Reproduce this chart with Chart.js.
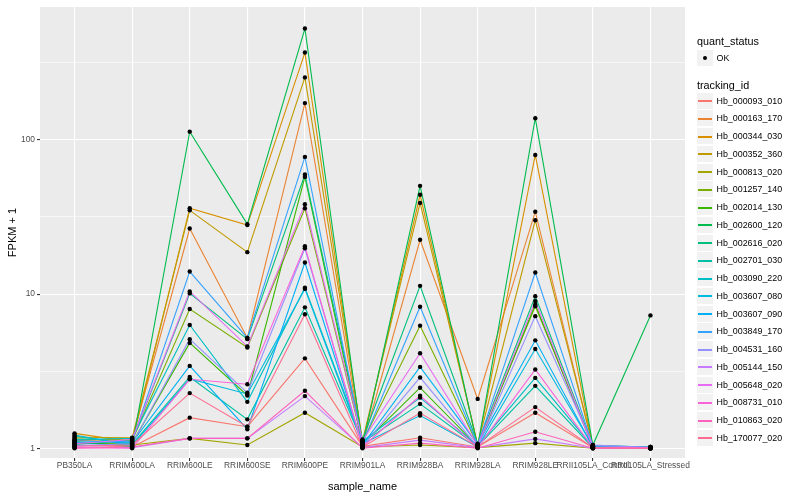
<!DOCTYPE html>
<html><head><meta charset="utf-8">
<script src="https://cdn.jsdelivr.net/npm/chart.js@4/dist/chart.umd.min.js"></script>
<style>
body{margin:0;background:#fff;font-family:"Liberation Sans",Arial,sans-serif;}
#wrap{position:relative;width:800px;height:500px;overflow:hidden;}
#c{position:absolute;left:0;top:0;}
.t{position:absolute;font-size:10.8px;line-height:12px;color:#000;white-space:nowrap;}
.k{position:absolute;width:16px;height:16px;background:#F2F2F2;}
.lab{position:absolute;font-size:8.9px;line-height:10px;color:#000;white-space:nowrap;}
.ln{position:absolute;height:1.6px;}
.dot{position:absolute;width:4px;height:4px;border-radius:2px;background:#000;}
</style></head>
<body>
<div id="wrap"><canvas id="c" width="800" height="500"></canvas><div id="legend"></div></div>
<script>
// ---- data ----
const categories = ["PB350LA","RRIM600LA","RRIM600LE","RRIM600SE","RRIM600PE","RRIM901LA","RRIM928BA","RRIM928LA","RRIM928LE","RRII105LA_Control","RRII105LA_Stressed"];
const seriesNames = ["Hb_000093_010","Hb_000163_170","Hb_000344_030","Hb_000352_360","Hb_000813_020","Hb_001257_140","Hb_002014_130","Hb_002600_120","Hb_002616_020","Hb_002701_030","Hb_003090_220","Hb_003607_080","Hb_003607_090","Hb_003849_170","Hb_004531_160","Hb_005144_150","Hb_005648_020","Hb_008731_010","Hb_010863_020","Hb_170077_020"];
const hb000093_010 = [1.05,1.02,1.58,1.38,3.83,1.03,1.17,1.02,1.70,1.01,1.00];
const hb000163_170 = [1.12,1.15,26.6,5.19,173,1.05,22.5,2.09,34.2,1.03,1.01];
const hb000344_030 = [1.25,1.10,36.0,28.0,368,1.08,44.0,1.04,79.8,1.02,1.02];
const hb000352_360 = [1.18,1.17,34.9,18.7,254,1.12,39.0,1.06,30.1,1.04,1.01];
const hb000813_020 = [1.10,1.05,1.16,1.05,1.70,1.02,1.05,1.01,1.08,1.00,1.00];
const hb001257_140 = [1.15,1.12,8.0,4.50,36.0,1.10,6.24,1.05,8.34,1.03,1.02];
const hb002014_130 = [1.08,1.08,4.82,2.20,57.5,1.06,2.47,1.03,8.55,1.02,1.01];
const hb002600_120 = [1.10,1.03,113,28.4,527,1.04,50.3,1.02,138,1.05,7.27];
const hb002616_020 = [1.06,1.13,10.1,5.10,59.6,1.14,11.3,1.07,9.68,1.04,1.02];
const hb002701_030 = [1.20,1.06,2.90,1.54,8.2,1.09,1.94,1.03,2.54,1.01,1.00];
const hb003090_220 = [1.14,1.16,6.3,2.00,11.0,1.11,2.13,1.04,2.86,1.02,1.01];
const hb003607_080 = [1.22,1.04,2.82,2.25,10.8,1.07,1.63,1.02,4.40,1.03,1.00];
const hb003607_090 = [1.12,1.09,3.42,1.33,16.0,1.05,3.37,1.06,5.01,1.02,1.01];
const hb003849_170 = [1.09,1.11,14.0,5.20,77.5,1.08,8.27,1.05,13.8,1.04,1.02];
const hb004531_160 = [1.04,1.07,5.10,2.29,19.8,1.03,2.88,1.02,7.19,1.05,1.01];
const hb005144_150 = [1.02,1.01,1.16,1.16,2.18,1.01,1.13,1.01,1.15,1.00,1.00];
const hb005648_020 = [1.07,1.14,10.4,4.58,38.2,1.12,4.13,1.04,9.0,1.02,1.01];
const hb008731_010 = [1.01,1.00,2.80,2.60,20.4,1.02,2.19,1.01,3.24,1.01,1.00];
const hb010863_020 = [1.00,1.02,1.16,1.16,2.36,1.00,1.08,1.00,1.28,1.00,1.00];
const hb170077_020 = [1.03,1.05,2.28,1.38,7.4,1.02,1.69,1.02,1.85,1.01,1.00];
const yTickValues = [1,10,100];
const yMinorValues = [3.1623,31.623,316.23];
const statusLabels = ["OK"];

const seriesValues = [hb000093_010,hb000163_170,hb000344_030,hb000352_360,hb000813_020,hb001257_140,hb002014_130,hb002600_120,hb002616_020,hb002701_030,hb003090_220,hb003607_080,hb003607_090,hb003849_170,hb004531_160,hb005144_150,hb005648_020,hb008731_010,hb010863_020,hb170077_020];
const palette = ["#F8766D","#EA8331","#D89000","#C09B00","#A3A500","#7CAE00","#39B600","#00BB4E","#00BF7D","#00C1A3","#00BFC4","#00BAE0","#00B0F6","#35A2FF","#9590FF","#C77CFF","#E76BF3","#FA62DB","#FF62BC","#FF6C91"];

Chart.defaults.font.family = '"Liberation Sans", Arial, sans-serif';

const lineSets = seriesNames.map((name,i)=>({
  type:'line', label:name,
  data: seriesValues[i].map((v,j)=>({x:j,y:v})),
  borderColor: palette[i], backgroundColor: palette[i],
  borderWidth:1.1, pointRadius:0, fill:false, tension:0, order: 100 - i
}));
const pointSet = {
  type:'scatter', label: statusLabels[0],
  data: seriesValues.flatMap(vals=>vals.map((v,j)=>({x:j,y:v}))),
  backgroundColor:'#000', borderColor:'#000', borderWidth:0, pointRadius:2.2, showLine:false, order:0
};

const panelBg = {id:'panelBg', beforeDraw(chart){
  const {ctx, chartArea:a} = chart;
  ctx.save();
  ctx.fillStyle='#fff'; ctx.fillRect(0,0,chart.width,chart.height);
  ctx.fillStyle='#EBEBEB'; ctx.fillRect(a.left,a.top,a.right-a.left,a.bottom-a.top);
  ctx.restore();
}};

const isMajorY = v => yTickValues.some(t => Math.abs(t - v) < 1e-6);

new Chart(document.getElementById('c'), {
  type:'line',
  data:{datasets:[...lineSets, pointSet]},
  plugins:[panelBg],
  options:{
    responsive:false, animation:false,
    layout:{padding:{top:5,right:115,left:0,bottom:0}},
    plugins:{legend:{display:false}, tooltip:{enabled:false}},
    scales:{
      x:{
        type:'linear', min:-0.6, max:10.6,
        afterBuildTicks: s => { s.ticks = categories.map((c,i)=>({value:i})); },
        afterFit: s => { s.height = 42; },
        ticks:{callback: v => categories[v], autoSkip:false, maxRotation:0, minRotation:0, color:'#4D4D4D', font:{size:8.4}, padding:0},
        grid:{color:'#FFFFFF', lineWidth:1.1, tickColor:'#333333', tickLength:3, drawTicks:true},
        border:{display:false},
        title:{display:true, text:'sample_name', color:'#000', font:{size:11}, padding:{top:0,bottom:6}}
      },
      y:{
        type:'logarithmic', min:0.865, max:726,
        afterBuildTicks: s => { s.ticks = [...yTickValues, ...yMinorValues].sort((a,b)=>a-b).map(v=>({value:v})); },
        afterFit: s => { s.width = 40; },
        ticks:{callback: v => isMajorY(v) ? String(v) : '', autoSkip:false, color:'#4D4D4D', font:{size:8.4}, padding:2},
        grid:{color:'#FFFFFF', lineWidth: ctx => isMajorY(ctx.tick.value) ? 1.1 : 0.55,
              tickColor: ctx => isMajorY(ctx.tick.value) ? '#333333' : 'rgba(0,0,0,0)', tickLength:3, drawTicks:true},
        border:{display:false},
        title:{display:true, text:'FPKM + 1', color:'#000', font:{size:11}, padding:{top:6,bottom:0}}
      }
    }
  }
});

// ---- legend (HTML) ----
const lg = document.getElementById('legend');
function add(cls, css, text){ const d=document.createElement('div'); d.className=cls; Object.assign(d.style, css); if(text!==undefined) d.textContent=text; lg.appendChild(d); return d; }
add('t',{left:'697px',top:'34.5px'},'quant_status');
add('k',{left:'697px',top:'49.5px'});
add('dot',{left:'703px',top:'55.5px'});
add('lab',{left:'716.5px',top:'52.5px'},statusLabels[0]);
add('t',{left:'697px',top:'78.5px'},'tracking_id');
seriesNames.forEach((n,i)=>{
  const cy = 100.7 + i*17.75;
  add('k',{left:'697px',top:Math.round(cy-8)+'px'});
  add('ln',{left:'698px',top:Math.round(cy-0.5)+'px',width:'14px',background:palette[i]});
  add('lab',{left:'716.5px',top:(cy-5)+'px'},n);
});
</script>
</body></html>
